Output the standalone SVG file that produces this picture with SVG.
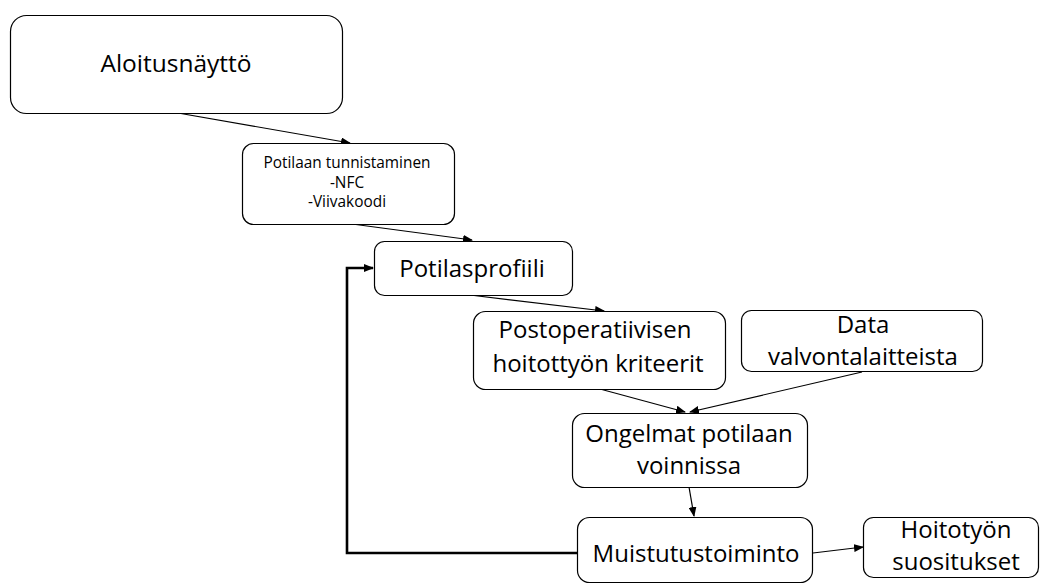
<svg xmlns="http://www.w3.org/2000/svg" width="1045" height="585" viewBox="0 0 1045 585">
<defs>
<marker id="ah" markerWidth="10" markerHeight="8" refX="9" refY="4" orient="auto" markerUnits="userSpaceOnUse">
<path d="M0,0 L10,4 L0,8 Z" fill="#000"/>
</marker>
<style>
.box{fill:#fff;stroke:#000;stroke-width:1.2}
.t{font-family:"Open Sans",Lato,sans-serif;fill:#000;text-anchor:middle;font-size:24px}
.s{font-size:15.4px}
.c{fill:none;stroke:#000;stroke-width:1.2;marker-end:url(#ah)}
.fb{fill:none;stroke:#000;stroke-width:2.6;marker-end:url(#ah)}
</style>
</defs>
<rect width="1045" height="585" fill="#fff"/>
<g id="connectors">
<path class="c" d="M178,113 L350,143"/>
<path class="c" d="M352,224 L472,240"/>
<path class="c" d="M470,295 L604,311"/>
<path class="c" d="M600,389 L685,412"/>
<path class="c" d="M862,372 L690,412"/>
<path class="c" d="M689,487 L694,516"/>
<path class="c" d="M813,553 L863,547"/>
<path class="fb" d="M577,553 H347 V268 H373"/>
</g>
<g id="n1"><rect class="box" x="10.5" y="15.5" width="332" height="98" rx="16"/><text class="t" x="176" y="72" style="font-size:24.5px">Aloitusnäyttö</text></g>
<g id="n2"><rect class="box" x="242.5" y="143.5" width="212" height="81" rx="11"/><text class="t s" x="347" y="168">Potilaan tunnistaminen</text><text class="t s" x="347" y="188">-NFC</text><text class="t s" x="347" y="207">-Viivakoodi</text></g>
<g id="n3"><rect class="box" x="374.5" y="241.5" width="198" height="54" rx="10"/><text class="t" x="472" y="277">Potilasprofiili</text></g>
<g id="n4"><rect class="box" x="473.5" y="311.5" width="252" height="78" rx="12"/><text class="t" x="595" y="338">Postoperatiivisen</text><text class="t" x="598" y="372">hoitottyön kriteerit</text></g>
<g id="n5"><rect class="box" x="741.5" y="310.5" width="241" height="61" rx="10"/><text class="t" x="863" y="333">Data</text><text class="t" x="863" y="365">valvontalaitteista</text></g>
<g id="n6"><rect class="box" x="572.5" y="413.5" width="235" height="74" rx="12"/><text class="t" x="689" y="442">Ongelmat potilaan</text><text class="t" x="689" y="474">voinnissa</text></g>
<g id="n7"><rect class="box" x="577.5" y="517.5" width="235" height="65" rx="12"/><text class="t" x="696" y="562">Muistutustoiminto</text></g>
<g id="n8"><rect class="box" x="863.5" y="517.5" width="175" height="60" rx="10"/><text class="t" x="956" y="538">Hoitotyön</text><text class="t" x="956" y="570">suositukset</text></g>
</svg>
